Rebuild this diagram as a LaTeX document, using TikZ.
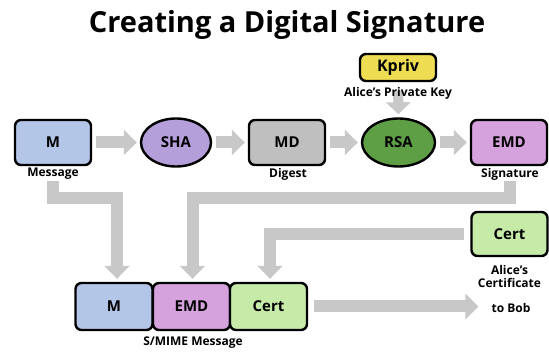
\documentclass[tikz,border=0pt]{standalone}
\usepackage{fontspec}
\setmainfont{Open Sans}
\usetikzlibrary{arrows.meta,shapes.geometric}

\definecolor{bandgray}{HTML}{C8C8C8}
\definecolor{mblue}{HTML}{B4C6E7}
\definecolor{shapurple}{HTML}{B49FDB}
\definecolor{mdgray}{HTML}{BFBFBF}
\definecolor{rsagreen}{HTML}{5E9E45}
\definecolor{emdpink}{HTML}{D6A2DE}
\definecolor{certgreen}{HTML}{C6EAA8}
\definecolor{keyyellow}{HTML}{EEDC52}

\begin{document}
\begin{tikzpicture}[x=1pt,y=-1pt,
  box/.style={draw=black, line width=2.4pt, rounded corners=6pt,
    minimum width=76pt, minimum height=45pt, inner sep=0pt,
    font=\bfseries\fontsize{15}{16}\selectfont},
  oval/.style={ellipse, draw=black, line width=2.4pt,
    minimum width=70pt, minimum height=48pt, inner sep=0pt,
    font=\bfseries\fontsize{15}{16}\selectfont},
  lbl/.style={font=\bfseries\fontsize{12}{13}\selectfont, align=center, inner sep=1pt},
  band/.style={draw=bandgray, line width=12pt,
    -{Triangle[width=25pt,length=13pt]}},
]
\useasboundingbox (0,0) rectangle (549,352);

% title
\node[font=\bfseries\fontsize{29}{32}\selectfont] (title) at (287,25) {Creating a Digital Signature};

% private key
\node[box, fill=keyyellow, minimum width=76pt, minimum height=27pt,
  font=\bfseries\fontsize{16}{17}\selectfont] (kpriv) at (398,67.5) {Kpriv};

% top row
\node[box, fill=mblue] (m) at (53,142.5) {M};
\node[oval, fill=shapurple] (sha) at (176,142.5) {SHA};
\node[box, fill=mdgray] (md) at (287,142.5) {MD};
\node[oval, fill=rsagreen, minimum width=73pt] (rsa) at (398.5,142.5) {RSA};
\node[box, fill=emdpink] (emd) at (509,142.5) {EMD};

% key feeds the cipher; its caption sits over the shaft
\draw[band, line width=10pt, -{Triangle[width=24pt,length=12pt]},
  shorten <=9pt, shorten >=3pt] (kpriv.south) -- (rsa.north);
\node[lbl] (keylbl) at (398,93) {Alice’s Private Key};

\node[lbl] (mlbl) at (53,174) {Message};
\node[lbl] (mdlbl) at (288,174) {Digest};
\node[lbl] (emdlbl) at (510,174) {Signature};

% certificate
\node[box, fill=certgreen, minimum height=44pt] (cert) at (509.5,234) {Cert};
\node[lbl] (certlbl) at (509.5,277) {Alice’s\\Certificate};
\node[lbl] (bob) at (511,308) {to Bob};

% S/MIME message
\node[box, fill=mblue, minimum width=77pt, minimum height=47pt] (bm) at (114,306.5) {M};
\node[box, fill=emdpink, minimum width=77pt, minimum height=47pt] (bemd) at (191.5,306.5) {EMD};
\node[box, fill=certgreen, minimum width=77pt, minimum height=47pt] (bcert) at (268.5,306.5) {Cert};
\node[lbl] (smime) at (193,343) {S/MIME Message};

% connectors along the top row
\draw[band, shorten <=4pt, shorten >=3pt] (m.east) -- (sha.west);
\draw[band, shorten <=4pt, shorten >=3pt] (sha.east) -- (md.west);
\draw[band, shorten <=4pt, shorten >=3pt] (md.east) -- (rsa.west);
\draw[band, shorten <=4pt, shorten >=3pt] (rsa.east) -- (emd.west);

% connectors into the S/MIME message
\draw[band, shorten >=3pt] (mlbl.south) -- (mlbl.south |- 0,198)
  -| ([xshift=3pt]bm.north);
\draw[band, shorten >=3pt] (emdlbl.south) -- (emdlbl.south |- 0,198)
  -| ([xshift=1pt]bemd.north);
\draw[band, shorten <=6pt, shorten >=3pt] (cert.west) -| ([xshift=1.5pt]bcert.north);
\draw[band, shorten <=6pt, shorten >=12pt] (bcert.east) -- (bcert.east -| bob.west);
\end{tikzpicture}
\end{document}
